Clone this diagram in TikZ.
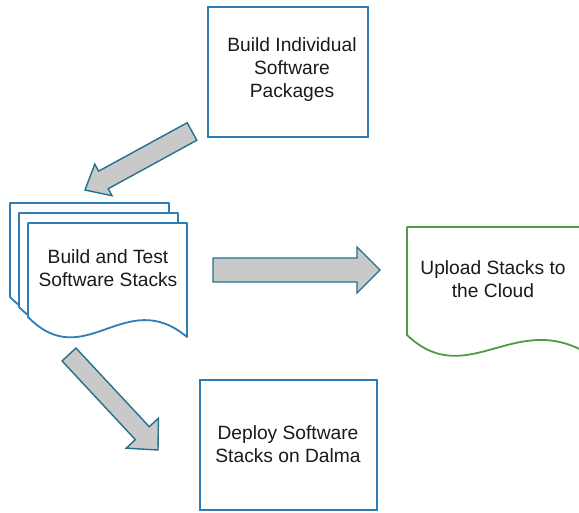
\documentclass[tikz,border=0pt]{standalone}
\usepackage{fontspec}
\setmainfont{Liberation Sans}
\usetikzlibrary{calc}
\definecolor{boxblue}{HTML}{2E7DB5}
\definecolor{boxgreen}{HTML}{4F9A44}
\definecolor{arrline}{HTML}{22708C}
\definecolor{arrfill}{HTML}{C9C9C9}
\definecolor{txt}{HTML}{1A1A1A}
\tikzset{
  box/.style={draw=boxblue, line width=1.8pt, fill=white, align=center, inner sep=0pt},
  docblue/.style={draw=boxblue, line width=1.8pt, fill=white, line join=round},
  docgreen/.style={draw=boxgreen, line width=1.8pt, fill=white, line join=round},
  lbl/.style={align=center, inner sep=0pt, text=txt},
  fatarrow/.style={draw=arrline, line width=1.4pt, fill=arrfill, line join=miter}
}
\newcommand\fatarr[5]{%
  \coordinate (hb) at ($(#2)!#5!(#1)$);
  \draw[fatarrow] ($(#1)!#3!90:(#2)$) -- ($(hb)!#3!90:(#2)$) -- ($(hb)!#4!90:(#2)$) -- (#2)
    -- ($(hb)!#4!-90:(#2)$) -- ($(hb)!#3!-90:(#2)$) -- ($(#1)!#3!-90:(#2)$) -- cycle;}
\begin{document}
\begin{tikzpicture}[x=1pt,y=-1pt,font=\fontsize{19.2}{23}\selectfont]
\clip (0,0) rectangle (579,512);
\fill[white] (0,0) rectangle (579,512);
% top box
\node[box, minimum width=160pt, minimum height=130pt] (pkg) at (288,72) {};
\node[lbl] (pkgtxt) at (292,70) {Build Individual\\Software\\Packages};
% deploy box
\node[box, minimum width=177pt, minimum height=130pt] (deploy) at (288.5,445) {};
\node[lbl] (deptxt) at (288,444) {Deploy Software\\Stacks on Dalma};
% multi document
\foreach \dx/\dy in {-18/-20,-9/-10,0/0}{
  \draw[docblue, shift={(\dx,\dy)}] (28,223) -- (187,223) -- (187,337)
     .. controls (125,285) and (85,375) .. (28,317) -- cycle;
}
\node[lbl] (build) at (108,268) {Build and Test\\Software Stacks};
% upload document
\draw[docgreen] (407,227) -- (600,227) -- (600,362)
   .. controls (520,300) and (470,395) .. (407,335) -- cycle;
\node[lbl] (upload) at (493,279) {Upload Stacks to\\the Cloud};
% fat arrows
\coordinate (a1t) at (192,131.5); \coordinate (a1h) at (85,190);
\coordinate (a2t) at (213,270);   \coordinate (a2h) at (380,270);
\coordinate (a3t) at (69,354.5);  \coordinate (a3h) at (158,450);
\fatarr{a1t}{a1h}{10pt}{18pt}{21pt}
\fatarr{a2t}{a2h}{12pt}{23pt}{23pt}
\fatarr{a3t}{a3h}{9.5pt}{22pt}{23pt}
\end{tikzpicture}
\end{document}
